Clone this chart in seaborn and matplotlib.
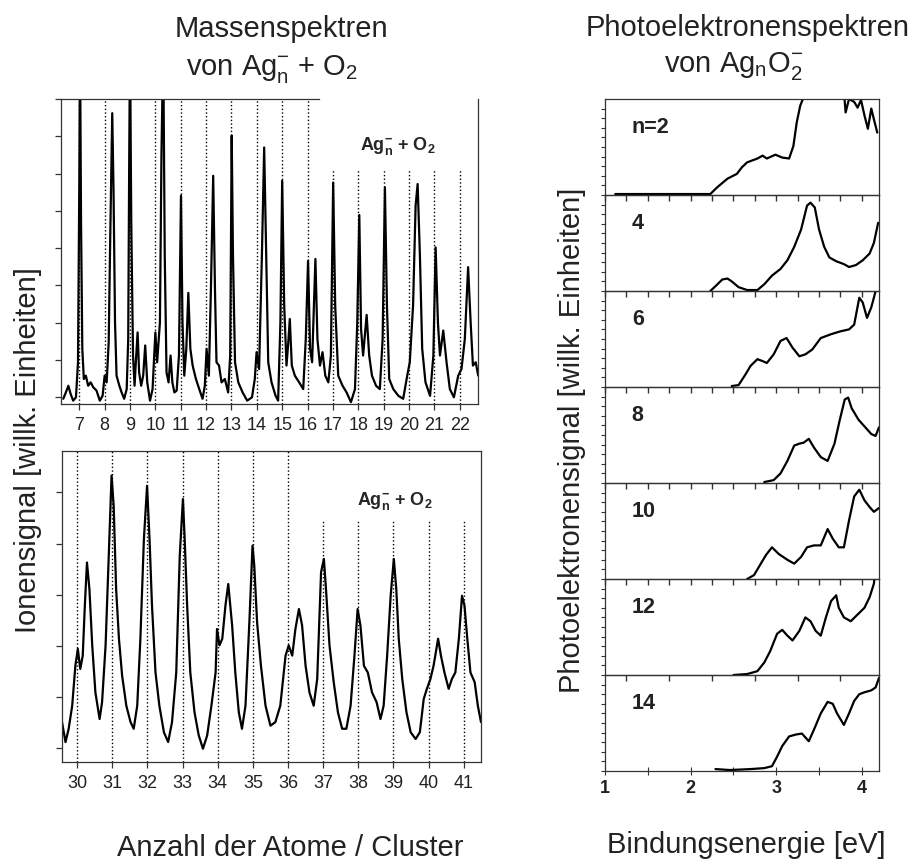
import matplotlib
matplotlib.use("Agg")
import matplotlib.pyplot as plt
import seaborn as sns
import numpy as np

sns.set_style("ticks")
plt.rcParams['font.family'] = ['Liberation Sans', 'DejaVu Sans']
plt.rcParams['mathtext.fontset'] = 'custom'
plt.rcParams['mathtext.rm'] = 'Liberation Sans'
plt.rcParams['mathtext.it'] = 'Liberation Sans:italic'
plt.rcParams['mathtext.bf'] = 'Liberation Sans:bold'

# ---------------- data: mass spectrum n = 7..22 ----------------
ms1_x = [6.37, 6.50, 6.57, 6.66, 6.76, 6.87, 6.95, 7.00, 7.03, 7.07,
         7.12, 7.18, 7.26, 7.35, 7.45, 7.55, 7.68, 7.81, 7.92, 8.00,
         8.08, 8.16, 8.22, 8.30, 8.35, 8.41, 8.47, 8.58, 8.67, 8.77,
         8.87, 8.93, 8.97, 9.00, 9.05, 9.12, 9.18, 9.23, 9.30, 9.36,
         9.44, 9.52, 9.60, 9.68, 9.79, 9.89, 10.00, 10.07, 10.18, 10.24,
         10.31, 10.37, 10.44, 10.52, 10.60, 10.67, 10.75, 10.84, 10.93, 11.01,
         11.07, 11.14, 11.22, 11.30, 11.38, 11.47, 11.60, 11.73, 11.86, 11.95,
         12.02, 12.11, 12.19, 12.28, 12.35, 12.41, 12.51, 12.61, 12.74, 12.87,
         12.95, 13.01, 13.06, 13.14, 13.27, 13.44, 13.62, 13.81, 13.92, 13.99,
         14.09, 14.20, 14.29, 14.37, 14.45, 14.58, 14.74, 14.84, 14.93, 15.00,
         15.08, 15.17, 15.24, 15.30, 15.38, 15.50, 15.67, 15.83, 15.93, 16.02,
         16.10, 16.18, 16.31, 16.39, 16.49, 16.59, 16.70, 16.82, 16.92, 17.01,
         17.09, 17.21, 17.38, 17.54, 17.71, 17.87, 17.96, 18.04, 18.11, 18.19,
         18.33, 18.43, 18.54, 18.70, 18.85, 18.96, 19.05, 19.13, 19.22, 19.38,
         19.58, 19.77, 19.93, 20.03, 20.16, 20.26, 20.34, 20.43, 20.52, 20.65,
         20.83, 20.96, 21.05, 21.14, 21.22, 21.35, 21.48, 21.61, 21.77, 21.94,
         22.07, 22.20, 22.33, 22.43, 22.52, 22.63, 22.73]
ms1_y = [-0.04, 0.18, 0.31, 0.09, -0.09, 0.00, 0.94, 5.60, 9.50, 4.70,
         1.30, 0.49, 0.58, 0.31, 0.40, 0.27, 0.18, -0.09, 0.04, 0.58,
         0.40, 1.47, 4.24, 7.62, 5.59, 2.01, 0.58, 0.31, 0.13, -0.04,
         0.22, 1.56, 6.48, 9.50, 4.69, 1.12, 0.31, 0.94, 1.74, 0.67,
         0.31, 0.58, 1.39, 0.40, -0.09, 0.22, 1.74, 0.94, 2.01, 6.48,
         9.50, 3.80, 0.67, 0.40, 1.12, 0.40, 0.13, 0.18, 1.12, 5.41,
         2.01, 0.58, 1.30, 2.80, 1.30, 0.85, 0.49, 0.22, -0.04, 0.31,
         1.30, 0.58, 2.90, 5.94, 2.90, 0.94, 0.85, 0.40, 0.49, 0.13,
         1.12, 7.02, 3.80, 0.94, 0.40, 0.13, -0.09, 0.00, 0.49, 1.21,
         0.76, 3.80, 6.70, 3.80, 0.94, 0.40, 0.04, -0.09, 2.01, 5.81,
         2.46, 0.85, 1.47, 2.10, 0.85, 0.58, 0.40, 0.22, 1.56, 3.66,
         1.30, 0.94, 3.71, 1.56, 0.85, 1.21, 0.58, 0.40, 1.12, 5.76,
         2.46, 0.58, 0.31, 0.13, -0.13, 0.22, 2.01, 4.89, 1.83, 1.12,
         2.21, 1.12, 0.58, 0.31, 0.22, 1.56, 5.63, 2.46, 0.49, 0.22,
         0.04, -0.04, 0.58, 0.94, 2.46, 5.14, 5.72, 3.80, 1.30, 0.40,
         0.04, 1.12, 4.02, 2.01, 1.12, 1.79, 0.94, 0.22, 0.00, 0.58,
         0.76, 1.56, 3.49, 2.01, 0.85, 0.94, 0.58]
ms1_ticks = list(range(7, 23))
ms1_guides_full = list(range(7, 17))
ms1_guides_short = list(range(17, 23))

# ---------------- data: mass spectrum n = 30..41 ----------------
ms2_x = [29.57, 29.67, 29.76, 29.86, 29.95, 30.02, 30.09, 30.16, 30.22, 30.28,
         30.35, 30.43, 30.52, 30.64, 30.71, 30.81, 30.90, 30.98, 31.04, 31.11,
         31.19, 31.28, 31.40, 31.52, 31.61, 31.71, 31.80, 31.90, 31.99, 32.06,
         32.13, 32.23, 32.34, 32.47, 32.59, 32.70, 32.82, 32.92, 33.01, 33.06,
         33.13, 33.22, 33.34, 33.46, 33.58, 33.70, 33.82, 33.94, 33.98, 34.05,
         34.13, 34.22, 34.30, 34.41, 34.50, 34.60, 34.69, 34.79, 34.90, 34.99,
         35.04, 35.12, 35.23, 35.36, 35.50, 35.64, 35.78, 35.93, 36.02, 36.12,
         36.21, 36.31, 36.40, 36.50, 36.61, 36.73, 36.83, 36.94, 37.02, 37.08,
         37.18, 37.30, 37.42, 37.54, 37.66, 37.78, 37.89, 37.98, 38.06, 38.16,
         38.27, 38.39, 38.52, 38.63, 38.72, 38.82, 38.92, 39.01, 39.08, 39.15,
         39.25, 39.37, 39.49, 39.63, 39.75, 39.86, 39.95, 40.05, 40.14, 40.27,
         40.35, 40.45, 40.57, 40.66, 40.76, 40.86, 40.95, 41.02, 41.10, 41.19,
         41.31, 41.40, 41.49]
ms2_y = [0.51, 0.12, 0.38, 0.83, 1.61, 1.94, 1.55, 1.81, 2.79, 3.63,
         3.11, 2.01, 1.09, 0.57, 0.90, 2.01, 3.76, 5.33, 4.74, 3.11,
         2.14, 1.42, 0.83, 0.51, 0.38, 0.83, 2.14, 4.09, 5.13, 4.09,
         2.79, 1.48, 0.83, 0.31, 0.12, 0.51, 1.48, 3.76, 4.87, 4.09,
         2.79, 1.48, 0.70, 0.25, -0.01, 0.25, 0.83, 1.48, 2.33, 2.01,
         2.14, 2.79, 3.21, 2.40, 1.48, 0.70, 0.38, 0.83, 2.46, 3.96,
         3.57, 2.46, 1.61, 0.83, 0.44, 0.51, 0.83, 1.81, 2.01, 1.81,
         2.33, 2.72, 2.40, 1.61, 1.09, 0.83, 1.35, 3.44, 3.70, 3.11,
         2.01, 1.29, 0.70, 0.38, 0.38, 0.83, 1.81, 2.72, 2.40, 1.61,
         1.48, 1.09, 0.90, 0.57, 0.83, 1.81, 2.98, 3.70, 3.11, 2.14,
         1.35, 0.70, 0.31, 0.18, 0.31, 0.96, 1.16, 1.35, 1.61, 2.14,
         1.81, 1.48, 1.16, 1.35, 1.48, 2.14, 2.98, 2.79, 2.14, 1.48,
         1.29, 0.83, 0.51]
ms2_ticks = list(range(30, 42))
ms2_guides_full = list(range(30, 37))
ms2_guides_short = list(range(37, 42))

# ---------------- data: photoelectron spectra ----------------
pes_labels = ["n=2", "4", "6", "8", "10", "12", "14"]
pes2_x = [1.12, 2.23, 2.31, 2.43, 2.54, 2.60, 2.66, 2.78, 2.84, 2.89, 2.99,
          3.07, 3.15, 3.20, 3.24, 3.28, 3.32, 3.40, 3.60, 3.78, 3.81, 3.85,
          3.91, 3.95, 3.99, 4.03, 4.07, 4.11, 4.14, 4.18]
pes2_y = [0.01, 0.01, 0.08, 0.17, 0.22, 0.29, 0.34, 0.38, 0.41, 0.38, 0.42,
          0.39, 0.38, 0.51, 0.76, 0.93, 1.02, 1.20, 1.20, 1.20, 0.86, 1.00,
          0.97, 0.91, 0.99, 0.83, 0.69, 0.90, 0.79, 0.65]
pes4_x = [2.23, 2.29, 2.37, 2.43, 2.48, 2.56, 2.66, 2.78, 2.86, 2.95, 3.05,
          3.13, 3.21, 3.29, 3.36, 3.40, 3.45, 3.50, 3.56, 3.62, 3.70, 3.79,
          3.85, 3.93, 4.01, 4.09, 4.14, 4.19]
pes4_y = [0.00, 0.05, 0.12, 0.13, 0.10, 0.04, 0.01, 0.01, 0.07, 0.16, 0.23,
          0.32, 0.46, 0.64, 0.89, 0.92, 0.87, 0.64, 0.46, 0.35, 0.31, 0.28,
          0.25, 0.27, 0.32, 0.39, 0.50, 0.71]
pes6_x = [2.48, 2.56, 2.64, 2.70, 2.78, 2.84, 2.89, 2.97, 3.05, 3.12, 3.19,
          3.27, 3.34, 3.42, 3.52, 3.64, 3.75, 3.85, 3.91, 3.97, 4.01, 4.06,
          4.11, 4.14, 4.19]
pes6_y = [0.01, 0.02, 0.13, 0.22, 0.29, 0.27, 0.25, 0.34, 0.48, 0.51, 0.41,
          0.32, 0.34, 0.39, 0.51, 0.55, 0.58, 0.60, 0.65, 0.93, 0.88, 0.72,
          0.83, 0.93, 1.10]
pes8_x = [2.86, 2.97, 3.05, 3.13, 3.21, 3.27, 3.32, 3.38, 3.44, 3.52, 3.60,
          3.68, 3.74, 3.80, 3.84, 3.88, 3.96, 4.03, 4.11, 4.16, 4.20]
pes8_y = [0.01, 0.03, 0.10, 0.23, 0.39, 0.41, 0.42, 0.46, 0.37, 0.27, 0.23,
          0.41, 0.65, 0.87, 0.89, 0.78, 0.66, 0.59, 0.51, 0.49, 0.58]
pes10_x = [2.66, 2.74, 2.82, 2.88, 2.95, 3.03, 3.13, 3.21, 3.29, 3.36, 3.44,
           3.52, 3.60, 3.66, 3.73, 3.79, 3.85, 3.91, 3.97, 4.03, 4.09, 4.14,
           4.20]
pes10_y = [0.00, 0.04, 0.16, 0.25, 0.33, 0.26, 0.20, 0.16, 0.23, 0.33, 0.35,
           0.35, 0.52, 0.42, 0.33, 0.33, 0.61, 0.86, 0.93, 0.82, 0.75, 0.70,
           0.74]
pes12_x = [2.50, 2.66, 2.78, 2.86, 2.93, 3.01, 3.07, 3.13, 3.19, 3.27, 3.34,
           3.40, 3.46, 3.52, 3.58, 3.64, 3.70, 3.73, 3.79, 3.87, 3.95, 4.03,
           4.09, 4.14, 4.16, 4.20]
pes12_y = [0.00, 0.01, 0.04, 0.13, 0.25, 0.43, 0.47, 0.41, 0.36, 0.46, 0.60,
           0.56, 0.46, 0.41, 0.60, 0.77, 0.83, 0.70, 0.60, 0.56, 0.63, 0.70,
           0.81, 0.95, 1.10, 1.30]
pes14_x = [2.29, 2.46, 2.70, 2.86, 2.95, 3.01, 3.07, 3.15, 3.23, 3.30, 3.38,
           3.44, 3.52, 3.60, 3.66, 3.71, 3.79, 3.85, 3.91, 3.97, 4.03, 4.11,
           4.16, 4.20]
pes14_y = [0.02, 0.01, 0.02, 0.03, 0.05, 0.15, 0.26, 0.36, 0.38, 0.39, 0.31,
           0.43, 0.60, 0.72, 0.70, 0.60, 0.48, 0.60, 0.73, 0.80, 0.82, 0.84,
           0.87, 0.97]
pes_x = [pes2_x, pes4_x, pes6_x, pes8_x, pes10_x, pes12_x, pes14_x]
pes_y = [pes2_y, pes4_y, pes6_y, pes8_y, pes10_y, pes12_y, pes14_y]
pes_ticks = [1.0, 1.5, 2.0, 2.5, 3.0, 3.5, 4.0]
pes_tick_labels = ['1', '', '2', '', '3', '', '4']
pes_fine_ticks = [1.0, 1.25, 1.5, 1.75, 2.0, 2.25, 2.5, 2.75, 3.0, 3.25,
                  3.5, 3.75, 4.0]

# ---------------- figure ----------------
W, H = 917, 862
fig = plt.figure(figsize=(W / 100, H / 100), dpi=100)


def rect(l, t, r, b):
    return [l / W, 1 - b / H, (r - l) / W, (b - t) / H]


LW = 1.6
SP = 0.9
EC = '#333333'
tick_font = {'family': ['Liberation Sans Narrow', 'Liberation Sans'], 'size': 13}

# top-left mass spectrum
ax1 = fig.add_axes(rect(61, 100, 478, 405))
sns.lineplot(x=ms1_x, y=ms1_y, ax=ax1, color='black', linewidth=LW,
             estimator=None, sort=False)
ax1.set_xlim(6.28, 22.72)
ax1.set_ylim(-0.18, 8.0)
ax1.vlines(ms1_guides_full, -0.18, 8.0, colors='black', linestyles=':', linewidth=1.0)
ax1.vlines(ms1_guides_short, -0.18, 6.12, colors='black', linestyles=':', linewidth=1.0)
ax1.set_xticks(ms1_ticks)
ax1.set_xticklabels([str(t) for t in ms1_ticks], fontdict=tick_font)
ax1.set_yticks(range(0, 9))
ax1.set_yticklabels([])
ax1.spines['top'].set_bounds(6.28, 16.45)
ax1.text(0.716, 0.835, r'Ag$_{\mathbf{n}}^{\mathbf{-}}$ + O$_{\mathbf{2}}$',
         transform=ax1.transAxes, fontsize=13, fontweight='bold', va='baseline')

# bottom-left mass spectrum
ax2 = fig.add_axes(rect(62, 452, 481, 763))
sns.lineplot(x=ms2_x, y=ms2_y, ax=ax2, color='black', linewidth=LW,
             estimator=None, sort=False)
ax2.set_xlim(29.57, 41.49)
ax2.set_ylim(-0.27, 5.81)
ax2.vlines(ms2_guides_full, -0.27, 5.81, colors='black', linestyles=':', linewidth=1.0)
ax2.vlines(ms2_guides_short, -0.27, 4.45, colors='black', linestyles=':', linewidth=1.0)
ax2.set_xticks(ms2_ticks)
ax2.set_xticklabels([str(t) for t in ms2_ticks], fontdict=tick_font)
ax2.set_yticks(range(0, 6))
ax2.set_yticklabels([])
ax2.text(0.705, 0.83, r'Ag$_{\mathbf{n}}^{\mathbf{-}}$ + O$_{\mathbf{2}}$',
         transform=ax2.transAxes, fontsize=13, fontweight='bold', va='baseline')

for ax in (ax1, ax2):
    ax.set_xlabel('')
    ax.set_ylabel('')
    for s in ax.spines.values():
        s.set_linewidth(SP)
        s.set_color(EC)
    ax.tick_params(axis='both', direction='out', length=4.5, width=SP, pad=4,
                   colors=EC, labelcolor='#222222')

# photoelectron spectra stack
top, bottom, left, right = 100, 772, 605, 879
ph = (bottom - top) / len(pes_labels)
last = len(pes_labels) - 1
for i, lab in enumerate(pes_labels):
    t = top + i * ph
    ax = fig.add_axes(rect(left, t, right, t + ph))
    ax.patch.set_alpha(0.0)
    sns.lineplot(x=pes_x[i], y=pes_y[i], ax=ax, color='black', linewidth=LW,
                 estimator=None, sort=False)
    ax.set_xlim(1.0, 4.2)
    ax.set_ylim(0.0, 1.0)
    ax.set_xlabel('')
    ax.set_ylabel('')
    ax.set_yticks(np.arange(0, 10) / 10)
    ax.set_yticklabels([])
    ax.tick_params(axis='y', direction='out', length=3, width=0.8, colors=EC)
    for s in ax.spines.values():
        s.set_linewidth(SP)
        s.set_color(EC)
    ax.text(0.098, 0.66, lab, transform=ax.transAxes, fontsize=15.5,
            fontweight='bold', va='baseline', color='#222222')
    if i > 0:
        # fine ticks pointing down from each panel's top edge
        ax.set_xticks(pes_fine_ticks, minor=True)
        ax.tick_params(axis='x', which='minor', top=True, bottom=False,
                       direction='in', length=4, width=1.0, color=EC)
    if i < last:
        ax.set_xticks([])
    else:
        ax.set_xticks(pes_ticks)
        ax.set_xticklabels(pes_tick_labels,
                           fontdict={'size': 13, 'weight': 'bold'})
        ax.tick_params(axis='x', which='major', top=False, bottom=True,
                       direction='inout', length=6, width=0.8, pad=3,
                       colors=EC, labelcolor='#222222')

# titles and axis texts
tc = '#222222'
fig.text(281 / W, 1 - 37 / H, 'Massenspektren', ha='center', va='baseline',
         fontsize=21, color=tc)
fig.text(272 / W, 1 - 75 / H, r'von Ag$_{\mathrm{n}}^{\mathrm{-}}$ + O$_{2}$',
         ha='center', va='baseline', fontsize=21, color=tc)
fig.text(748 / W, 1 - 36 / H, 'Photoelektronenspektren', ha='center',
         va='baseline', fontsize=21, color=tc)
fig.text(733 / W, 1 - 72 / H, r'von Ag$_{\mathrm{n}}$O$_{2}^{\mathrm{-}}$',
         ha='center', va='baseline', fontsize=21, color=tc)
fig.text(290 / W, 1 - 856 / H, 'Anzahl der Atome / Cluster', ha='center',
         va='baseline', fontsize=21, color=tc)
fig.text(746 / W, 1 - 853 / H, 'Bindungsenergie [eV]', ha='center',
         va='baseline', fontsize=21, color=tc)
fig.text(28 / W, 1 - 450 / H, 'Ionensignal [willk. Einheiten]', ha='center',
         va='center', rotation=90, fontsize=21, color=tc)
fig.text(572 / W, 1 - 440 / H, 'Photoelektronensignal [willk. Einheiten]',
         ha='center', va='center', rotation=90, fontsize=21, color=tc)

fig.savefig('out.png', dpi=100)
